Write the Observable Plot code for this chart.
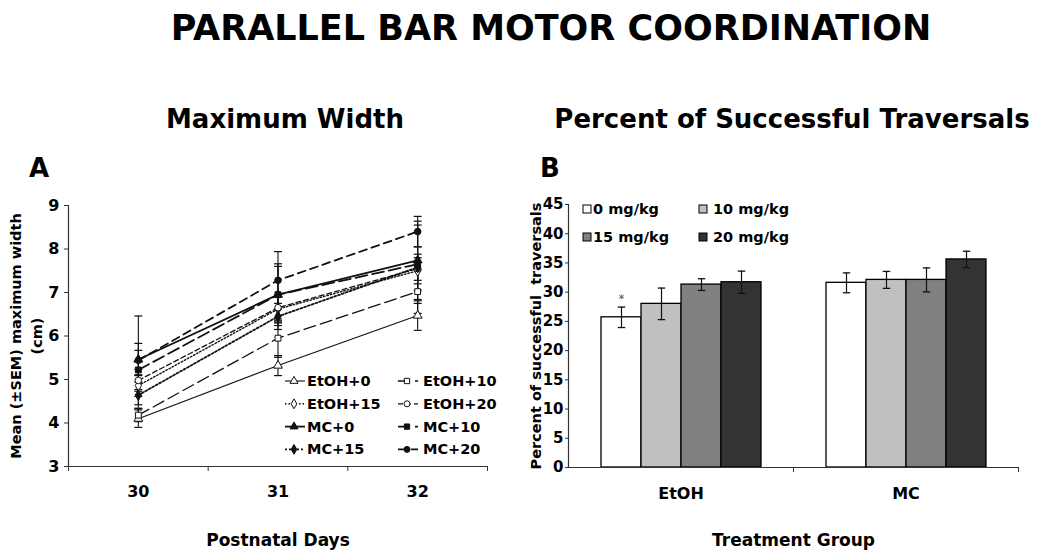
<!DOCTYPE html>
<html>
<head>
<meta charset="utf-8">
<script src="https://cdn.jsdelivr.net/npm/d3@7"></script>
<script src="https://cdn.jsdelivr.net/npm/@observablehq/plot@0.6"></script>
<style>
  body { margin: 0; background: #fff; }
  #root { position: relative; width: 1050px; height: 557px; overflow: hidden; font-family: "DejaVu Sans", Verdana, sans-serif; }
  #root > * { position: absolute; }
</style>
</head>
<body>
<div id="root"></div>
<script>
// ---------------- DATA ----------------
// Panel A: maximum width (cm), mean and SEM per series across postnatal days
const days = [30, 31, 32];
const seriesNames = ["EtOH+0", "EtOH+10", "EtOH+15", "EtOH+20", "MC+0", "MC+10", "MC+15", "MC+20"];
const etoh0Mean  = [4.10, 5.32, 6.47];
const etoh10Mean = [4.18, 5.95, 7.02];
const etoh15Mean = [4.86, 6.62, 7.50];
const etoh20Mean = [4.98, 6.65, 7.55];
const mc0Mean    = [5.46, 6.95, 7.74];
const mc10Mean   = [5.22, 6.95, 7.65];
const mc15Mean   = [4.64, 6.45, 7.58];
const mc20Mean   = [5.44, 7.28, 8.40];
const etoh0Sem  = [0.20, 0.23, 0.34];
const etoh10Sem = [0.15, 0.44, 0.50];
const etoh15Sem = [0.25, 0.30, 0.30];
const etoh20Sem = [0.25, 0.30, 0.50];
const mc0Sem    = [0.37, 0.71, 0.90];
const mc10Sem   = [0.45, 0.65, 0.90];
const mc15Sem   = [0.30, 0.30, 0.30];
const mc20Sem   = [1.02, 0.66, 0.35];
const yTicksA = [3, 4, 5, 6, 7, 8, 9];

// Panel B: percent of successful traversals
const groups = ["EtOH", "MC"];
const doseLabels = ["0 mg/kg", "10 mg/kg", "15 mg/kg", "20 mg/kg"];
const etohPct = [25.7, 28.0, 31.3, 31.7];
const etohSem = [1.75, 2.7, 1.0, 1.9];
const mcPct   = [31.6, 32.1, 32.1, 35.6];
const mcSem   = [1.7, 1.45, 2.05, 1.4];
const etohSig = ["*", "", "", ""];
const mcSig   = ["", "", "", ""];
const yTicksB = [0, 5, 10, 15, 20, 25, 30, 35, 40, 45];

// ---------------- STYLES ----------------
const ink = "#111";
const seriesStyle = [
  {dash: null,   width: 1.1, symbol: "triangle", fill: "#fff"},
  {dash: "12,5", width: 1.3, symbol: "square",   fill: "#fff"},
  {dash: "1.5,2",width: 1.4, symbol: "diamond",  fill: "#fff"},
  {dash: "5,3",  width: 1.3, symbol: "circle",   fill: "#fff"},
  {dash: null,   width: 1.8, symbol: "triangle", fill: ink},
  {dash: "12,5", width: 1.8, symbol: "square",   fill: ink},
  {dash: "2,2",  width: 1.8, symbol: "diamond",  fill: ink},
  {dash: "8,5",  width: 1.8, symbol: "circle",   fill: ink}
];
const barFills = ["#ffffff", "#c0c0c0", "#808080", "#333333"];
const d3Symbols = {triangle: d3.symbolTriangle, square: d3.symbolSquare, diamond: d3.symbolDiamond, circle: d3.symbolCircle};
const capSymbol = {draw(context, size) { const w = Math.sqrt(size) / 2; context.moveTo(-w, 0); context.lineTo(w, 0); }};

// ---------------- BUILD TABLES ----------------
const means = [etoh0Mean, etoh10Mean, etoh15Mean, etoh20Mean, mc0Mean, mc10Mean, mc15Mean, mc20Mean];
const sems = [etoh0Sem, etoh10Sem, etoh15Sem, etoh20Sem, mc0Sem, mc10Sem, mc15Sem, mc20Sem];
const widthRows = seriesNames.flatMap((name, i) => days.map((day, j) => ({series: name, day, mean: means[i][j], sem: sems[i][j]})));

const pctByGroup = [etohPct, mcPct], semByGroup = [etohSem, mcSem], sigByGroup = [etohSig, mcSig];
const barRows = groups.flatMap((g, gi) => doseLabels.map((dose, di) => ({group: g, dose, value: pctByGroup[gi][di], sem: semByGroup[gi][di], sig: sigByGroup[gi][di]})));

const root = document.getElementById("root");
const font = "DejaVu Sans";

// ---------------- PANEL A ----------------
const plotA = Plot.plot({
  width: 520, height: 367,
  marginLeft: 68, marginRight: 33, marginTop: 15, marginBottom: 91,
  style: {fontFamily: font, fontWeight: "bold", fontSize: "15px", color: "#000", background: "transparent", overflow: "visible"},
  x: {domain: [days[0] - 0.5, days[days.length - 1] + 0.5]},
  y: {domain: [yTicksA[0], yTicksA[yTicksA.length - 1]]},
  marks: [
    Plot.axisY({ticks: yTicksA, tickFormat: d => String(d), tickSize: 4, tickPadding: 5, fontSize: 16, label: null, stroke: "#333"}),
    Plot.axisX({ticks: [...days.map(d => d - 0.5), days[days.length - 1] + 0.5], tickFormat: () => "", tickSize: 5, label: null, stroke: "#333"}),
    Plot.axisX({ticks: days, tickFormat: d => String(d), tickSize: 0, tickPadding: 19, fontSize: 16, label: null}),
    Plot.ruleX([days[0] - 0.5], {stroke: "#333", strokeWidth: 1.2}),
    Plot.ruleY([yTicksA[0]], {stroke: "#333", strokeWidth: 1.2}),
    Plot.ruleX(widthRows, {x: "day", y1: d => d.mean - d.sem, y2: d => d.mean + d.sem, stroke: ink, strokeWidth: 1.1}),
    Plot.dot(widthRows, {x: "day", y: d => d.mean + d.sem, symbol: capSymbol, r: 4.5, fill: "none", stroke: ink, strokeWidth: 1.2}),
    Plot.dot(widthRows, {x: "day", y: d => d.mean - d.sem, symbol: capSymbol, r: 4.5, fill: "none", stroke: ink, strokeWidth: 1.2}),
    ...seriesNames.map((name, i) => Plot.line(widthRows.filter(d => d.series === name), {
      x: "day", y: "mean", stroke: ink, strokeWidth: seriesStyle[i].width, strokeDasharray: seriesStyle[i].dash
    })),
    ...seriesNames.map((name, i) => Plot.dot(widthRows.filter(d => d.series === name), {
      x: "day", y: "mean", symbol: seriesStyle[i].symbol, r: 3.3, fill: seriesStyle[i].fill, stroke: ink, strokeWidth: 1
    })),
    Plot.text(["Mean (±SEM) maximum width\n(cm)"], {text: d => d, frameAnchor: "left", rotate: -90, dx: -44, textAnchor: "middle", lineAnchor: "middle", lineHeight: 1.5, fontSize: 14.5}),
    Plot.text(["Postnatal Days"], {text: d => d, frameAnchor: "bottom", dy: 74, lineAnchor: "middle", fontSize: 17})
  ]
});
plotA.style.left = "0px"; plotA.style.top = "190px";
root.appendChild(plotA);

// ---------------- PANEL B ----------------
const wB = 550, mlB = 68, mrB = 32;
const facetW = (wB - mlB - mrB) / groups.length;
const plotB = Plot.plot({
  width: wB, height: 367,
  marginLeft: mlB, marginRight: mrB, marginTop: 14, marginBottom: 90,
  style: {fontFamily: font, fontWeight: "bold", fontSize: "15px", color: "#000", background: "transparent", overflow: "visible"},
  facet: {data: barRows, x: "group"},
  fx: {domain: groups, padding: 0},
  x: {domain: doseLabels, paddingInner: 0, paddingOuter: 0.745},
  y: {domain: [yTicksB[0], yTicksB[yTicksB.length - 1]]},
  color: {domain: doseLabels, range: barFills},
  marks: [
    Plot.axisY({ticks: yTicksB, tickFormat: d => String(d), tickSize: 3, tickPadding: 2, fontSize: 15, label: null, stroke: "#333"}),
    Plot.axisX({ticks: [], label: null}),
    Plot.axisFx({anchor: "bottom", tickSize: 0, tickPadding: 20, fontSize: 16, label: null}),
    Plot.axisFx({anchor: "bottom", tickSize: 5, tickFormat: () => "", dx: facetW / 2, label: null, stroke: "#333"}),
    Plot.frame({anchor: "left", facetAnchor: "left", stroke: "#333", strokeWidth: 1.2}),
    Plot.barY(barRows, {x: "dose", y: "value", fill: "dose", stroke: "#000", strokeWidth: 1.3}),
    Plot.ruleX(barRows, {x: "dose", y1: d => d.value - d.sem, y2: d => d.value + d.sem, stroke: ink, strokeWidth: 1.2}),
    Plot.dot(barRows, {x: "dose", y: d => d.value + d.sem, symbol: capSymbol, r: 4.2, fill: "none", stroke: ink, strokeWidth: 1.3}),
    Plot.dot(barRows, {x: "dose", y: d => d.value - d.sem, symbol: capSymbol, r: 4.2, fill: "none", stroke: ink, strokeWidth: 1.3}),
    Plot.text(barRows, {x: "dose", y: d => d.value + d.sem, text: "sig", dy: -8, fontSize: 12, fill: "#555", fontWeight: "normal"}),
    Plot.ruleY([0], {stroke: "#333", strokeWidth: 1.2}),
    Plot.text(["Percent of successful  traversals"], {text: d => d, facet: "super", frameAnchor: "left", rotate: -90, dx: -32, textAnchor: "middle", lineAnchor: "middle", fontSize: 14.5}),
    Plot.text(["Treatment Group"], {text: d => d, facet: "super", frameAnchor: "bottom", dy: 73, lineAnchor: "middle", fontSize: 17})
  ]
});
plotB.style.left = "500px"; plotB.style.top = "190px";
root.appendChild(plotB);

// ---------------- OVERLAY: titles and legends ----------------
const svg = d3.select(root).append("svg")
  .attr("width", 1050).attr("height", 557)
  .style("left", "0px").style("top", "0px").style("pointer-events", "none")
  .attr("font-family", font).attr("font-weight", "bold");

const heading = (txt, x, y, size, anchor) => svg.append("text").attr("x", x).attr("y", y)
  .attr("font-size", size).attr("text-anchor", anchor).attr("dominant-baseline", "central").text(txt);
heading("PARALLEL BAR MOTOR COORDINATION", 551, 28, 35, "middle");
heading("Maximum Width", 285, 119, 26, "middle");
heading("Percent of Successful Traversals", 792, 119, 26, "middle");
heading("A", 29, 168, 26, "start");
heading("B", 540, 168, 26, "start");

// Legend A (2 columns x 4 rows)
const legA = svg.append("g").attr("font-size", 14.5);
seriesNames.forEach((name, i) => {
  const col = i % 2, row = Math.floor(i / 2);
  const x0 = col === 0 ? 285 : 398, y = 381 + row * 22.8;
  const st = seriesStyle[i];
  legA.append("line").attr("x1", x0).attr("x2", x0 + 20).attr("y1", y).attr("y2", y)
    .attr("stroke", ink).attr("stroke-width", st.width).attr("stroke-dasharray", st.dash);
  legA.append("path").attr("transform", `translate(${x0 + 9},${y})`)
    .attr("d", d3.symbol(d3Symbols[st.symbol], 28)()).attr("fill", st.fill).attr("stroke", ink).attr("stroke-width", 1);
  legA.append("text").attr("x", x0 + (col === 0 ? 22 : 25)).attr("y", y).attr("dominant-baseline", "central").text(name);
});

// Legend B (2 columns x 2 rows)
const legB = svg.append("g").attr("font-size", 14.5);
doseLabels.forEach((lab, i) => {
  const col = i % 2, row = Math.floor(i / 2);
  const x0 = col === 0 ? 583 : 699, y = 209 + row * 28;
  legB.append("rect").attr("x", x0).attr("y", y - 4).attr("width", 8).attr("height", 8)
    .attr("fill", barFills[i]).attr("stroke", "#000").attr("stroke-width", 1);
  legB.append("text").attr("x", x0 + (col === 0 ? 10 : 14)).attr("y", y).attr("dominant-baseline", "central").text(lab);
});
</script>
</body>
</html>
